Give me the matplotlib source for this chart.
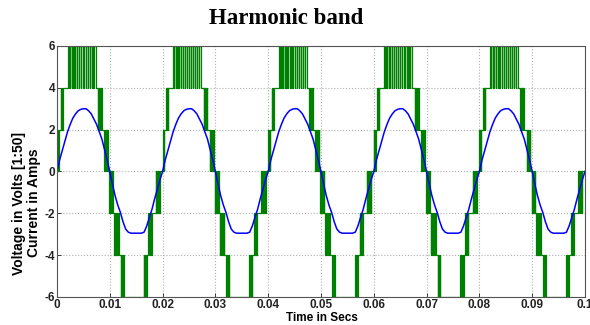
import numpy as np
import matplotlib
matplotlib.use("Agg")
import matplotlib.pyplot as plt

# one 20 ms cycle of the inverter output (switch instant in ms, level after switch)
period_ms = 20.0
n_cycles = 5
switch_ms = [
    0.00, 0.08, 0.16, 0.26, 0.34,
    0.70, 0.78, 0.88, 0.98, 1.08,
    2.00,
    2.20, 2.23, 2.50, 2.53, 2.80, 2.83, 3.10, 3.13, 3.45, 3.48,
    3.80, 3.83, 4.20, 4.23, 4.60, 4.63, 5.00, 5.03, 5.40, 5.43,
    5.80, 5.83, 6.20, 6.23, 6.55, 6.58, 6.90, 6.93,
    7.30, 7.75, 7.85, 8.00, 8.12, 8.25, 8.35, 8.50,
    8.95, 9.05, 9.20, 9.30, 9.45, 9.55, 9.65,
    9.90, 10.00, 10.10, 10.25, 10.35, 10.50, 10.60,
    10.80, 10.90, 11.05, 11.20, 11.35, 11.55, 11.70,
    12.10, 12.20, 12.35, 12.50, 12.60,
    16.40, 16.55, 16.70, 16.85, 17.00,
    17.30, 17.45, 17.60, 17.75, 17.90,
    18.70, 18.80, 18.95, 19.10, 19.25, 19.40, 19.50,
]
switch_level = [
    2, 0, 2, 0, 2,
    4, 2, 4, 2, 4,
    6,
    4, 6, 4, 6, 4, 6, 4, 6, 4, 6,
    4, 6, 4, 6, 4, 6, 4, 6, 4, 6,
    4, 6, 4, 6, 4, 6, 4, 6,
    4, 2, 4, 2, 4, 2, 4, 2,
    0, 2, 0, 2, 0, 2, 0,
    -2, 0, -2, 0, -2, 0, -2,
    -4, -2, -4, -2, -4, -2, -4,
    -6, -4, -6, -4, -6,
    -4, -6, -4, -6, -4,
    -2, -4, -2, -4, -2,
    0, -2, 0, -2, 0, -2, 0,
]

# one cycle of the load current, read every 0.5 ms
current_ms = [0.0, 0.5, 1.0, 1.5, 2.0, 2.5, 3.0, 3.5, 4.0, 4.5, 5.0,
              5.5, 6.0, 6.5, 7.0, 7.5, 8.0, 8.5, 9.0, 9.5, 10.0,
              10.5, 11.0, 11.5, 12.0, 12.5, 13.0, 13.5, 14.0, 14.5, 15.0,
              15.5, 16.0, 16.5, 17.0, 17.5, 18.0, 18.5, 19.0, 19.5]
current_amp = [0.0, 0.55, 1.0, 1.45, 1.9, 2.25, 2.55, 2.75, 2.9, 2.97, 3.0,
               3.0, 2.9, 2.75, 2.5, 2.25, 1.9, 1.55, 1.05, 0.55, 0.0,
               -0.6, -1.15, -1.6, -1.95, -2.4, -2.75, -2.9, -2.95, -2.95, -2.95,
               -2.95, -2.95, -2.9, -2.6, -2.2, -1.8, -1.3, -0.85, -0.4]

x_ticks = [0, 0.01, 0.02, 0.03, 0.04, 0.05, 0.06, 0.07, 0.08, 0.09, 0.1]
x_labels = ["0", "0.01", "0.02", "0.03", "0.04", "0.05", "0.06", "0.07", "0.08", "0.09", "0.1"]
y_ticks = [-6, -4, -2, 0, 2, 4, 6]


def build_voltage():
    t, v = [], []
    for k in range(n_cycles):
        for s, lvl in zip(switch_ms, switch_level):
            t.append((s + k * period_ms) / 1000.0)
            v.append(lvl)
    t.append(n_cycles * period_ms / 1000.0)
    v.append(v[-1])
    return np.array(t), np.array(v)


def build_current():
    t, i = [], []
    for k in range(n_cycles):
        for s, a in zip(current_ms, current_amp):
            t.append((s + k * period_ms) / 1000.0)
            i.append(a)
    t.append(n_cycles * period_ms / 1000.0)
    i.append(current_amp[0])
    return np.array(t), np.array(i)


def main():
    bold = {"family": "Liberation Sans", "weight": "bold"}
    fig = plt.figure(figsize=(5.9, 3.25), dpi=100)
    ax = fig.add_axes([0.0966, 0.0862, 0.8949, 0.7723])

    tv, vv = build_voltage()
    ti, ii = build_current()
    ax.plot(tv, vv, color="#008000", linewidth=0.9, drawstyle="steps-post")
    ax.plot(ti, ii, color="#0000ff", linewidth=1.1)

    ax.set_xlim(0, 0.1)
    ax.set_ylim(-6, 6)
    ax.set_xticks(x_ticks)
    ax.set_xticklabels(x_labels, fontdict=bold, fontsize=8.5)
    ax.set_yticks(y_ticks)
    ax.set_yticklabels([str(y) for y in y_ticks], fontdict=bold, fontsize=8.5)
    ax.tick_params(direction="in", length=3, width=0.6, pad=1.5, colors="#222222")
    ax.grid(True, linestyle=":", color="#b0b0b0", linewidth=0.8)
    for sp in ax.spines.values():
        sp.set_color("#555555")
        sp.set_linewidth(0.8)

    fig.text(0.485, 0.943, "Harmonic band", ha="center", va="center",
             family="Liberation Serif", weight="bold", fontsize=16.5)
    fig.text(0.545, 0.022, "Time in Secs", ha="center", va="center", fontsize=8.5, **bold)
    fig.text(0.045, 0.375, "Voltage in Volts [1:50]\nCurrent in Amps", ha="center",
             va="center", rotation=90, fontsize=10, multialignment="center",
             linespacing=1.05, **bold)

    fig.savefig("out.png", dpi=100)


if __name__ == "__main__":
    main()
